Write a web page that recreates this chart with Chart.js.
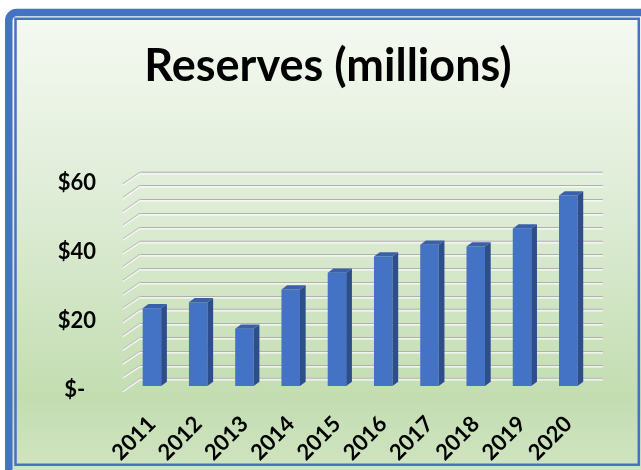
<!DOCTYPE html>
<html>
<head>
<meta charset="utf-8">
<title>Reserves (millions)</title>
<script src="https://cdn.jsdelivr.net/npm/chart.js@4/dist/chart.umd.min.js"></script>
<style>
  html, body { margin: 0; padding: 0; background: #ffffff; }
  #wrap { width: 641px; height: 470px; }
</style>
</head>
<body>
<div id="wrap"><canvas id="chart" width="641" height="470"></canvas></div>
<script>
// Year-end reserves, in millions of dollars
const years = ['2011', '2012', '2013', '2014', '2015', '2016', '2017', '2018', '2019', '2020'];
const reserves = [22.6, 24.3, 16.6, 28.0, 32.9, 37.6, 41.0, 40.5, 45.7, 55.3];

// Value axis: labelled every 20, with fine rules every 4
const yTickValues = [0, 20, 40, 60];
const yTickLabels = ['$-\u00a0\u00a0', '$20', '$40', '$60'];
const minorStep = 4;

const TITLE = 'Reserves (millions)';

// Pseudo-3D geometry (pixels, relative to the bar face plane)
const BACK = { dx: 11.5, dy: -7.7 };   // back wall
const FRONT = { dx: -6, dy: 4.6 };     // front edge of the side wall
const BAR_DEPTH = { dx: 5.7, dy: 4.3 };

const BLUE = '#4472C4';

const frame = {
  id: 'frame',
  beforeDraw(chart) {
    const ctx = chart.ctx, W = chart.width, H = chart.height;
    ctx.save();
    ctx.fillStyle = '#ffffff';
    ctx.fillRect(0, 0, W, H);

    // panel gradient
    const g = ctx.createLinearGradient(0, 18, 0, 466);
    g.addColorStop(0, '#f5f9f2');
    g.addColorStop(0.45, '#dcebd3');
    g.addColorStop(0.85, '#c3ddb1');
    g.addColorStop(1, '#cfe4c1');
    ctx.fillStyle = g;
    ctx.beginPath();
    ctx.roundRect(5, 9, W + 40, H + 40, 9);
    ctx.fill();

    // outer border
    ctx.strokeStyle = BLUE;
    ctx.lineWidth = 7.5;
    ctx.beginPath();
    ctx.roundRect(8.75, 12.5, W + 40, H + 40, 8);
    ctx.stroke();

    // inner frame line
    ctx.lineWidth = 2.5;
    ctx.beginPath();
    ctx.rect(15.5, 18.75, 623.3, 446);
    ctx.stroke();

    // chart title
    ctx.fillStyle = '#000000';
    ctx.font = 'bold 45px Lato';
    ctx.textAlign = 'center';
    ctx.textBaseline = 'alphabetic';
    ctx.fillText(TITLE, 328, 81);
    ctx.restore();
  },
  beforeDatasetsDraw(chart) {
    const ctx = chart.ctx, ys = chart.scales.y, a = chart.chartArea;
    ctx.save();
    for (let v = ys.min; v <= ys.max + 1e-9; v += minorStep) {
      const py = ys.getPixelForValue(v);
      const by = Math.round(py + BACK.dy) + 0.5;
      const bx0 = a.left + BACK.dx, bx1 = a.right + BACK.dx;
      const fx = a.left + FRONT.dx, fy = py + FRONT.dy;
      const major = yTickValues.includes(v);

      // back wall rule
      ctx.lineWidth = major ? 2 : 1;
      ctx.strokeStyle = major ? '#c2c2c2' : '#b0b0b0';
      ctx.beginPath(); ctx.moveTo(bx0, by); ctx.lineTo(bx1, by); ctx.stroke();
      ctx.lineWidth = 1.4;
      ctx.strokeStyle = 'rgba(252,252,252,0.95)';
      ctx.beginPath(); ctx.moveTo(bx0, by + 1.4); ctx.lineTo(bx1, by + 1.4); ctx.stroke();

      // side wall rule
      ctx.lineWidth = 1.6;
      ctx.strokeStyle = '#c4c4c4';
      ctx.beginPath(); ctx.moveTo(bx0, by - 0.3); ctx.lineTo(fx, fy); ctx.stroke();
      ctx.lineWidth = 1.1;
      ctx.strokeStyle = 'rgba(252,252,252,0.95)';
      ctx.beginPath(); ctx.moveTo(bx0, by + 1); ctx.lineTo(fx, fy + 1.2); ctx.stroke();
    }
    ctx.restore();
  },
  afterDatasetsDraw(chart) {
    const ctx = chart.ctx;
    const meta = chart.getDatasetMeta(0);
    ctx.save();
    meta.data.forEach(bar => {
      const { x, y, base, width } = bar.getProps(['x', 'y', 'base', 'width'], true);
      const l = x - width / 2, r = x + width / 2;
      // side face
      ctx.fillStyle = '#2D4E8B';
      ctx.beginPath();
      ctx.moveTo(r, y);
      ctx.lineTo(r + BAR_DEPTH.dx, y - BAR_DEPTH.dy);
      ctx.lineTo(r + BAR_DEPTH.dx, base - BAR_DEPTH.dy);
      ctx.lineTo(r, base);
      ctx.closePath();
      ctx.fill();
      // top face
      ctx.fillStyle = '#3A60A9';
      ctx.beginPath();
      ctx.moveTo(l, y);
      ctx.lineTo(r, y);
      ctx.lineTo(r + BAR_DEPTH.dx, y - BAR_DEPTH.dy);
      ctx.lineTo(l + BAR_DEPTH.dx, y - BAR_DEPTH.dy);
      ctx.closePath();
      ctx.fill();
    });
    ctx.restore();
  }
};

const tickFont = { family: 'Lato', weight: 'bold', size: 22 };

new Chart(document.getElementById('chart'), {
  type: 'bar',
  data: {
    labels: years,
    datasets: [{
      label: 'Reserves',
      data: reserves,
      backgroundColor: BLUE,
      borderWidth: 0,
      barPercentage: 0.4,
      categoryPercentage: 1.0
    }]
  },
  options: {
    responsive: false,
    animation: false,
    events: [],
    layout: { padding: { left: 20, right: 49.6, top: 179.4, bottom: 0 } },
    plugins: {
      legend: { display: false },
      tooltip: { enabled: false },
      title: { display: false }
    },
    scales: {
      x: {
        grid: { display: false, drawTicks: false },
        border: { display: false },
        ticks: { color: '#000000', font: tickFont, minRotation: 45, maxRotation: 45, autoSkip: false, padding: 25 },
        afterFit(s) { s.height = 84; }
      },
      y: {
        min: 0,
        max: 60,
        grid: { display: false, drawTicks: false },
        border: { display: false },
        afterBuildTicks(s) { s.ticks = yTickValues.map(v => ({ value: v })); },
        ticks: {
          color: '#000000',
          font: tickFont,
          padding: 32.8,
          labelOffset: 4,
          callback: (v) => yTickLabels[yTickValues.indexOf(v)]
        },
        afterFit(s) { s.width = 108.8; }
      }
    }
  },
  plugins: [frame]
});
</script>
</body>
</html>
